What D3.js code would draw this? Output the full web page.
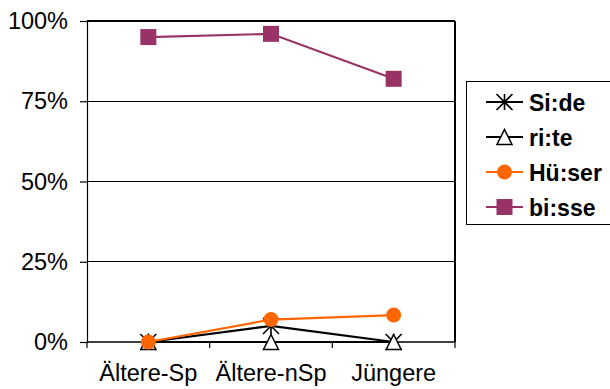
<!DOCTYPE html>
<html>
<head>
<meta charset="utf-8">
<script src="https://cdn.jsdelivr.net/npm/d3@7"></script>
<style>
  html, body { margin: 0; padding: 0; background: #fff; }
  svg { display: block; }
  text { font-family: "Liberation Sans", Arial, sans-serif; }
</style>
</head>
<body>
<script>
// Categories and series (share of each form, 0..1)
const categories = ["Ältere-Sp", "Ältere-nSp", "Jüngere"];
const side   = [0, 0.05, 0];
const rite   = [0, 0, 0];
const huser  = [0, 0.07, 0.084];
const bisse  = [0.95, 0.96, 0.82];
const yTicks = [0, 0.25, 0.5, 0.75, 1];

const series = [
  { name: "Si:de",  values: side,  color: "#000000", marker: "star" },
  { name: "ri:te",  values: rite,  color: "#000000", marker: "triangle" },
  { name: "Hü:ser", values: huser, color: "#FF6600", marker: "circle" },
  { name: "bi:sse", values: bisse, color: "#993366", marker: "square" }
];

const W = 610, H = 389;
const plot = { left: 87, right: 455, top: 21, bottom: 342 };

const svg = d3.select("body").append("svg").attr("width", W).attr("height", H);
svg.append("rect").attr("width", W).attr("height", H).attr("fill", "#fff");

const x = d3.scaleBand().domain(categories).range([plot.left, plot.right]).padding(0);
const y = d3.scaleLinear().domain([0, 1]).range([plot.bottom, plot.top]);
const cx = c => x(c) + x.bandwidth() / 2;

// Horizontal gridlines
svg.append("g").selectAll("line").data(yTicks.filter(t => t > 0)).join("line")
  .attr("x1", plot.left).attr("x2", plot.right)
  .attr("y1", d => y(d)).attr("y2", d => y(d))
  .attr("stroke", "#000").attr("stroke-width", 1.2).attr("shape-rendering", "crispEdges");

// Right frame edge
svg.append("line")
  .attr("x1", plot.right).attr("x2", plot.right)
  .attr("y1", plot.top).attr("y2", plot.bottom)
  .attr("stroke", "#000").attr("stroke-width", 1.2).attr("shape-rendering", "crispEdges");

// Y axis
const yAxis = svg.append("g").attr("transform", `translate(${plot.left},0)`)
  .call(d3.axisLeft(y).tickValues(yTicks).tickFormat(d3.format(".0%"))
    .tickSize(7).tickPadding(12));
yAxis.select(".domain").attr("stroke", "#000").attr("stroke-width", 1.2);
yAxis.selectAll(".tick line").attr("stroke", "#000").attr("stroke-width", 1.2);
yAxis.selectAll(".tick text").attr("font-size", 23.5).attr("fill", "#000")
  .attr("font-family", "Liberation Sans, Arial, sans-serif");

// X axis: ticks on category boundaries, labels centred
const xAxis = svg.append("g").attr("transform", `translate(0,${plot.bottom})`);
xAxis.append("line").attr("x1", plot.left).attr("x2", plot.right)
  .attr("stroke", "#000").attr("stroke-width", 1.5);
const bounds = categories.map(c => x(c)).concat([plot.right]);
xAxis.selectAll("line.tk").data(bounds).join("line").attr("class", "tk")
  .attr("x1", d => d).attr("x2", d => d).attr("y1", 0).attr("y2", 6)
  .attr("stroke", "#000").attr("stroke-width", 1.2);
xAxis.selectAll("text").data(categories).join("text")
  .attr("x", d => cx(d)).attr("y", 39)
  .attr("text-anchor", "middle").attr("font-size", 23.5).attr("fill", "#000")
  .text(d => d);

// Marker drawing
function drawMarker(g, type, color, size) {
  const s = size;
  if (type === "star") {
    const h = s / 2;
    g.append("path")
      .attr("d", `M${-h},${-h}L${h},${h}M${-h},${h}L${h},${-h}M0,${-h}L0,${h}`)
      .attr("stroke", color).attr("stroke-width", 1.6).attr("fill", "none");
  } else if (type === "triangle") {
    const h = s / 2;
    g.append("path")
      .attr("d", `M0,${-h}L${h},${h}L${-h},${h}Z`)
      .attr("stroke", color).attr("stroke-width", 1.5).attr("fill", "#fff");
  } else if (type === "circle") {
    g.append("circle").attr("r", s / 2).attr("fill", color);
  } else if (type === "square") {
    g.append("rect").attr("x", -s / 2).attr("y", -s / 2)
      .attr("width", s).attr("height", s).attr("fill", color);
  }
}
const markerSize = { star: 16, triangle: 15, circle: 15, square: 16 };

// Series lines and markers
const line = d3.line().x((d, i) => cx(categories[i])).y(d => y(d));
series.forEach(s => {
  const g = svg.append("g");
  g.append("path").datum(s.values).attr("d", line)
    .attr("fill", "none").attr("stroke", s.color).attr("stroke-width", 2.2);
  s.values.forEach((v, i) => {
    const m = g.append("g").attr("transform", `translate(${cx(categories[i])},${y(v)})`);
    drawMarker(m, s.marker, s.color, markerSize[s.marker]);
  });
});

// Legend
const legend = svg.append("g");
legend.append("rect").attr("x", 466.5).attr("y", 81.5).attr("width", 150).attr("height", 143)
  .attr("fill", "#fff").attr("stroke", "#000").attr("stroke-width", 1);
series.forEach((s, i) => {
  const ly = 102 + i * 35;
  const g = legend.append("g");
  g.append("line").attr("x1", 486).attr("x2", 523).attr("y1", ly).attr("y2", ly)
    .attr("stroke", s.color).attr("stroke-width", 2);
  const m = g.append("g").attr("transform", `translate(504.5,${ly})`);
  drawMarker(m, s.marker, s.color, markerSize[s.marker]);
  g.append("text").attr("x", 529).attr("y", ly + 8.5)
    .attr("font-size", 23).attr("font-weight", "bold").attr("fill", "#000")
    .text(s.name);
});
</script>
</body>
</html>
